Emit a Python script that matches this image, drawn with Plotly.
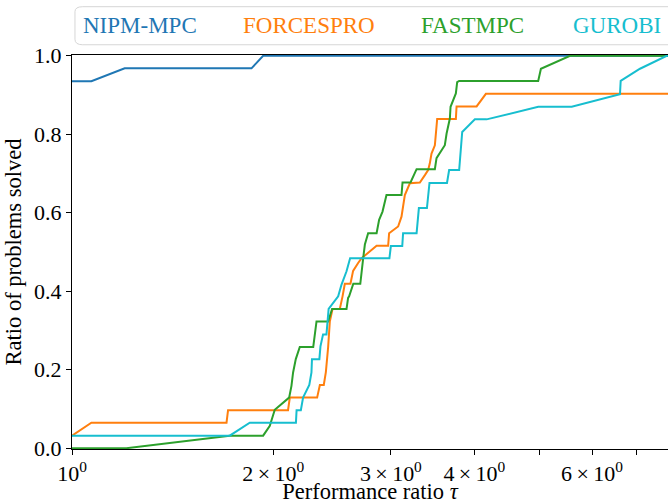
import plotly.graph_objects as go

# ---- data (performance profiles) ----
series_names = ["NIPM-MPC", "FORCESPRO", "FASTMPC", "GUROBI"]
series_colors = ["#1f77b4", "#ff7f0e", "#2ca02c", "#17becf"]

nipm_tau = [1.0, 1.069, 1.199, 1.856, 1.932, 7.8]
nipm_rho = [0.935, 0.935, 0.968, 0.968, 1.0, 1.0]

forces_tau = [1.0, 1.069, 1.703, 1.712, 2.105, 2.118, 2.327, 2.349, 2.381, 2.398,
              2.417, 2.431, 2.454, 2.516, 2.540, 2.560, 2.610, 2.634, 2.680, 2.712,
              2.856, 2.972, 2.982, 3.076, 3.112, 3.129, 3.148, 3.203, 3.315, 3.373,
              3.411, 3.431, 3.451, 3.491, 3.519, 3.753, 3.762, 4.031, 4.162, 7.8]
forces_rho = [0.032, 0.065, 0.065, 0.097, 0.097, 0.129, 0.129, 0.161, 0.161, 0.194,
              0.258, 0.323, 0.355, 0.355, 0.387, 0.419, 0.419, 0.452, 0.472, 0.484,
              0.516, 0.516, 0.548, 0.565, 0.590, 0.616, 0.645, 0.675, 0.677, 0.696,
              0.709, 0.726, 0.751, 0.772, 0.839, 0.839, 0.871, 0.871, 0.903, 0.903]

fast_tau = [1.0, 1.206, 1.722, 1.932, 1.977, 2.011, 2.113, 2.130, 2.142, 2.162,
            2.192, 2.296, 2.322, 2.417, 2.450, 2.575, 2.589, 2.598, 2.636, 2.700,
            2.727, 2.743, 2.774, 2.856, 2.881, 2.915, 2.955, 3.112, 3.123, 3.210,
            3.278, 3.491, 3.511, 3.551, 3.613, 3.635, 3.676, 3.685, 3.718, 3.753,
            3.770, 3.796, 4.984, 5.031, 5.562, 7.8]
fast_rho = [0.0, 0.0, 0.032, 0.032, 0.057, 0.098, 0.129, 0.159, 0.193, 0.227,
            0.258, 0.258, 0.323, 0.323, 0.355, 0.355, 0.383, 0.387, 0.419, 0.419,
            0.484, 0.519, 0.548, 0.548, 0.582, 0.603, 0.645, 0.645, 0.677, 0.677,
            0.711, 0.711, 0.739, 0.751, 0.772, 0.802, 0.840, 0.870, 0.887, 0.904,
            0.933, 0.936, 0.936, 0.967, 1.0, 1.0]

gurobi_tau = [1.0, 1.722, 1.845, 2.163, 2.168, 2.200, 2.217, 2.265, 2.282, 2.286,
              2.345, 2.354, 2.375, 2.403, 2.421, 2.502, 2.531, 2.575, 2.607, 2.985,
              3.000, 3.120, 3.129, 3.278, 3.304, 3.397, 3.427, 3.640, 3.667, 3.796,
              3.836, 4.007, 4.173, 4.984, 5.594, 6.606, 6.622, 7.078, 7.761, 7.8]
gurobi_rho = [0.032, 0.032, 0.065, 0.065, 0.097, 0.097, 0.129, 0.161, 0.193, 0.227,
              0.227, 0.260, 0.290, 0.290, 0.355, 0.387, 0.417, 0.451, 0.484, 0.484,
              0.515, 0.515, 0.548, 0.548, 0.612, 0.612, 0.676, 0.676, 0.709, 0.709,
              0.806, 0.838, 0.838, 0.870, 0.870, 0.902, 0.936, 0.967, 1.0, 1.0]

x_tickvals = [1, 2, 3, 4, 5, 6, 7]
x_ticktext = ["10<sup>0</sup>", "2\u2009×\u200910<sup>0</sup>", "3\u2009×\u200910<sup>0</sup>",
              "4\u2009×\u200910<sup>0</sup>", "", "6\u2009×\u200910<sup>0</sup>", ""]
y_tickvals = [0.0, 0.2, 0.4, 0.6, 0.8, 1.0]
y_ticktext = ["0.0", "0.2", "0.4", "0.6", "0.8", "1.0"]

FONT = "Liberation Serif, Times New Roman, serif"

fig = go.Figure()
all_tau = [nipm_tau, forces_tau, fast_tau, gurobi_tau]
all_rho = [nipm_rho, forces_rho, fast_rho, gurobi_rho]
for name, col, t, r in zip(series_names, series_colors, all_tau, all_rho):
    fig.add_trace(go.Scatter(x=t, y=r, mode="lines", name=name,
                             line=dict(color=col, width=2), showlegend=False))

# legend drawn as coloured text inside a rounded box
fig.add_shape(type="path", xref="paper", yref="paper",
              path="M 0.005,1.11 L 0.005,1.04 Q 0.005,1.026 0.018,1.026 L 1.05,1.026 "
                   "L 1.05,1.1226 L 0.018,1.1226 Q 0.005,1.1226 0.005,1.11 Z",
              line=dict(color="#d6d6d6", width=1), fillcolor="rgba(255,255,255,0.8)")
legend_x = [0.114, 0.397, 0.672, 0.914]
for name, col, lx in zip(series_names, series_colors, legend_x):
    fig.add_annotation(text=name, x=lx, y=1.076, xref="paper", yref="paper",
                       showarrow=False, font=dict(family=FONT, size=23, color=col),
                       xanchor="center", yanchor="middle")

fig.update_layout(
    width=668, height=504,
    margin=dict(l=72, r=0, t=55, b=55),
    paper_bgcolor="white", plot_bgcolor="white",
    font=dict(family=FONT, size=22, color="black"),
    xaxis=dict(type="log", range=[0, 0.8918], tickvals=x_tickvals, ticktext=x_ticktext,
               ticks="outside", ticklen=5, tickcolor="black", showgrid=False,
               zeroline=False, showline=True, linecolor="black", linewidth=1,
               mirror=True, tickfont=dict(family=FONT, size=22),
               title=dict(text="Performance ratio <i>τ</i>", standoff=2,
                          font=dict(family=FONT, size=22.5))),
    yaxis=dict(range=[-0.002, 1.002], tickvals=y_tickvals, ticktext=y_ticktext,
               ticks="outside", ticklen=5, tickcolor="black", showgrid=False,
               zeroline=False, showline=True, linecolor="black", linewidth=1,
               tickfont=dict(family=FONT, size=22),
               title=dict(text="Ratio of problems solved", standoff=6,
                          font=dict(family=FONT, size=22.5))),
)

fig.write_html("out.html")
